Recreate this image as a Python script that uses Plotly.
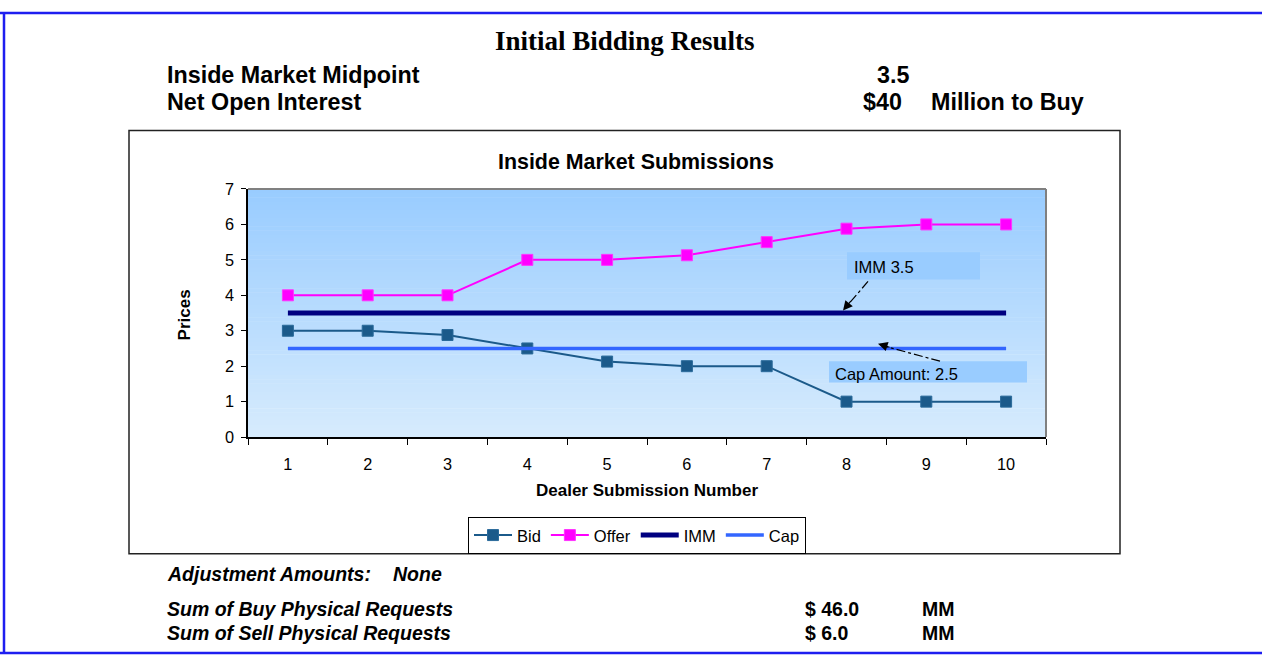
import plotly.graph_objects as go

W, H = 1262, 664

# ---------------- data ----------------
dealers = ["1", "2", "3", "4", "5", "6", "7", "8", "9", "10"]
bid = [3.0, 3.0, 2.88, 2.5, 2.13, 2.0, 2.0, 1.0, 1.0, 1.0]
offer = [4.0, 4.0, 4.0, 5.0, 5.0, 5.13, 5.5, 5.88, 6.0, 6.0]
imm = [3.5, 3.5, 3.5, 3.5, 3.5, 3.5, 3.5, 3.5, 3.5, 3.5]
cap = [2.5, 2.5, 2.5, 2.5, 2.5, 2.5, 2.5, 2.5, 2.5, 2.5]
y_ticks = [0, 1, 2, 3, 4, 5, 6, 7]

SANS = "Liberation Sans, Arial, sans-serif"
SERIF = "Liberation Serif, Times New Roman, serif"


def px(x):
    return x / W


def py(y):
    return 1 - y / H


# plot area in pixels
PL, PR, PT, PB = 248, 1046, 185, 440

fig = go.Figure()
fig.add_trace(go.Scatter(x=dealers, y=bid, name="Bid", mode="lines+markers",
                         line=dict(color="#1B5A8A", width=2),
                         marker=dict(symbol="square", size=11, color="#1B5A8A",
                                     line=dict(color="#2A6A9A", width=1))))
fig.add_trace(go.Scatter(x=dealers, y=offer, name="Offer", mode="lines+markers",
                         line=dict(color="#FF00FF", width=2),
                         marker=dict(symbol="square", size=11, color="#FF00FF",
                                     line=dict(color="#FF33FF", width=1))))
fig.add_trace(go.Scatter(x=dealers, y=imm, name="IMM", mode="lines",
                         line=dict(color="#000080", width=5)))
fig.add_trace(go.Scatter(x=dealers, y=cap, name="Cap", mode="lines",
                         line=dict(color="#3366FF", width=3.5)))

shapes = []
# chart box
shapes.append(dict(type="rect", xref="paper", yref="paper", x0=px(129), x1=px(1120),
                   y0=py(560), y1=py(125), line=dict(color="#222222", width=1.5),
                   fillcolor="white", layer="below"))
# gradient background of plot area
N = 60
top = (153, 204, 255)
bot = (214, 235, 253)
for i in range(N):
    t = i / (N - 1)
    c = tuple(int(round(top[k] + (bot[k] - top[k]) * t)) for k in range(3))
    y0 = PT + (PB - PT) * i / N
    y1 = PT + (PB - PT) * (i + 1) / N
    shapes.append(dict(type="rect", xref="paper", yref="paper", x0=px(PL), x1=px(PR),
                       y0=py(y1 + 0.5), y1=py(y0), line=dict(width=0),
                       fillcolor="rgb(%d,%d,%d)" % c, layer="below"))
# plot border (gray top/right)
shapes.append(dict(type="line", xref="paper", yref="paper", x0=px(PL), x1=px(PR),
                   y0=py(PT), y1=py(PT), line=dict(color="#808080", width=2), layer="below"))
shapes.append(dict(type="line", xref="paper", yref="paper", x0=px(PR), x1=px(PR),
                   y0=py(PT), y1=py(PB), line=dict(color="#808080", width=2), layer="below"))
# annotation boxes
shapes.append(dict(type="rect", xref="paper", yref="paper", x0=px(847), x1=px(980),
                   y0=py(278), y1=py(250), line=dict(width=0), fillcolor="#99CCFF", layer="below"))
shapes.append(dict(type="rect", xref="paper", yref="paper", x0=px(829), x1=px(1027),
                   y0=py(384), y1=py(362), line=dict(width=0), fillcolor="#99CCFF", layer="below"))
# dash-dot arrow bodies
shapes.append(dict(type="line", xref="paper", yref="paper", x0=px(868), y0=py(280),
                   x1=px(848), y1=py(304), line=dict(color="black", width=1.2, dash="dashdot")))
shapes.append(dict(type="line", xref="paper", yref="paper", x0=px(940), y0=py(362),
                   x1=px(886), y1=py(347), line=dict(color="black", width=1.2, dash="dashdot")))
# page border (blue)
BL = "#1E1EF0"
shapes.append(dict(type="line", xref="paper", yref="paper", x0=0, x1=1, y0=py(4), y1=py(4),
                   line=dict(color=BL, width=2.5)))
shapes.append(dict(type="line", xref="paper", yref="paper", x0=px(4), x1=px(4), y0=py(4), y1=py(662),
                   line=dict(color=BL, width=2.5)))
shapes.append(dict(type="line", xref="paper", yref="paper", x0=0, x1=1, y0=py(662), y1=py(662),
                   line=dict(color=BL, width=2.5)))

ann = []


def text(t, x, y, size, anchor="left", bold=True, italic=False, family=SANS, color="black"):
    s = t
    if bold:
        s = "<b>" + s + "</b>"
    if italic:
        s = "<i>" + s + "</i>"
    ann.append(dict(text=s, x=px(x), y=py(y), xref="paper", yref="paper", xanchor=anchor,
                    yanchor="middle", showarrow=False, font=dict(family=family, size=size, color=color)))


text("Initial Bidding Results", 625, 33, 27, anchor="center", family=SERIF)
text("Inside Market Midpoint", 165, 68, 23.3)
text("Net Open Interest", 165, 96, 23.3)
text("3.5", 911, 68, 23.3, anchor="right")
text("$40", 904, 96, 23.3, anchor="right")
text("Million to Buy", 929, 96, 23.3)
text("Inside Market Submissions", 636, 157, 21.4, anchor="center")
text("Dealer Submission Number", 647, 495, 17, anchor="center")
ann.append(dict(text="<b>Prices</b>", x=px(184), y=py(315), xref="paper", yref="paper",
                xanchor="center", yanchor="middle",
                showarrow=False, textangle=-90, font=dict(family=SANS, size=17, color="black")))
text("IMM 3.5", 852, 265, 16.5, bold=False)
text("Cap Amount: 2.5", 833, 375, 16.5, bold=False)
text("Adjustment Amounts:", 165, 581, 19.5, italic=True)
text("None", 391, 581, 19.5, italic=True)
text("Sum of Buy Physical Requests", 165, 617, 19.5, italic=True)
text("Sum of Sell Physical Requests", 165, 641, 19.5, italic=True)
text("$ 46.0", 803, 617, 19.5)
text("$ 6.0", 803, 641, 19.5)
text("MM", 920, 617, 19.5)
text("MM", 920, 641, 19.5)

# arrow heads
ann.append(dict(text="", x=px(843), y=py(310), xref="paper", yref="paper", showarrow=True,
                arrowhead=2, arrowsize=1.6, arrowwidth=1.2, arrowcolor="black", ax=9, ay=-11))
ann.append(dict(text="", x=px(878), y=py(344), xref="paper", yref="paper", showarrow=True,
                arrowhead=2, arrowsize=1.6, arrowwidth=1.2, arrowcolor="black", ax=13, ay=4))

fig.update_layout(
    width=W, height=H, margin=dict(l=0, r=0, t=0, b=0),
    paper_bgcolor="white", plot_bgcolor="rgba(0,0,0,0)",
    font=dict(family=SANS, color="black"),
    shapes=shapes, annotations=ann,
    xaxis=dict(domain=[px(PL), px(PR)], type="category", categoryorder="array",
               categoryarray=dealers, range=[-0.5, 9.5], autorange=False,
               tickson="boundaries", ticks="outside", ticklen=6,
               tickcolor="black", showline=True, linecolor="black", linewidth=1.5,
               showgrid=False, zeroline=False, tickfont=dict(size=16.3), ticklabelstandoff=12,
               fixedrange=True),
    yaxis=dict(domain=[py(PB), py(PT)], range=[0, 7], tickmode="array", tickvals=y_ticks,
               ticks="outside", ticklen=5, tickcolor="black", showline=True, linecolor="black",
               linewidth=1.5, showgrid=False, zeroline=False, tickfont=dict(size=16.3),
               ticklabelstandoff=4, fixedrange=True),
    legend=dict(orientation="h", x=px(637), xanchor="center", y=py(522), yanchor="top",
                bgcolor="white", bordercolor="black", borderwidth=1,
                font=dict(size=16.5), itemwidth=38, tracegroupgap=0),
    showlegend=True,
)

post = ("document.documentElement.style.margin='0';document.body.style.margin='0';"
        "document.documentElement.style.overflow='hidden';document.body.style.overflow='hidden';"
        "var d=document.getElementById('{plot_id}');d.style.position='fixed';d.style.left='0px';"
        "d.style.top='0px';window.scrollTo(0,0);")
fig.write_html("out.html", config={"displayModeBar": False}, post_script=post)
